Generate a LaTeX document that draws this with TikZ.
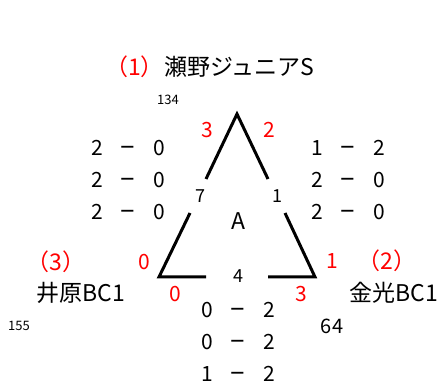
\documentclass[tikz,border=0pt]{standalone}
\usepackage{fontspec}
\setmainfont{Noto Sans CJK JP}
\begin{document}
\begin{tikzpicture}[x=1pt,y=-1pt,
  big/.style={inner sep=0pt,font=\fontsize{21}{21}\selectfont},
  redbig/.style={big,text=red},
  teamtext/.style={inner sep=0pt,font=\fontsize{23}{23}\selectfont},
  rednum/.style={teamtext,text=red},
  mid/.style={inner sep=0pt,font=\fontsize{18}{18}\selectfont},
  tiny/.style={inner sep=0pt,font=\fontsize{13}{13}\selectfont},
  edge/.style={line width=3pt,line cap=butt}]
\useasboundingbox (0,0) rectangle (442,390);
\newcommand\scorerow[2]{\makebox[31pt]{#1}\makebox[31pt]{\scalebox{1.3}[1.4]{–}}\makebox[31pt]{#2}}
% corners
\coordinate (T) at (237,114);
\coordinate (L) at (159,277);
\coordinate (R) at (315,277);
% triangle with gaps
\draw[edge,line join=miter] (206,179) -- (T) -- (268,179);
\draw[edge,line join=miter] (190,213) -- (L) -- (206,277);
\draw[edge,line join=miter] (285,213) -- (R) -- (268,277);
% title
\node[teamtext,anchor=west] (t1) at (164,67) {瀬野ジュニアS};
\node[rednum,anchor=east] (n1) at (t1.west) {（1）};
\node[tiny] (p1) at (168,100) {134};
% corner scores
\node[redbig] (s3) at (207,130) {3};
\node[redbig] (s2) at (269,130) {2};
\node[redbig] (l0a) at (144,262) {0};
\node[redbig] (l0b) at (175,294) {0};
\node[redbig] (r1) at (332,261) {1};
\node[redbig] (r3) at (301,294) {3};
% side match numbers
\node[mid] (m7) at (200,196) {7};
\node[mid] (m1) at (277,196) {1};
\node[mid] (m4) at (238,276) {4};
\node[teamtext] (A) at (238,221) {A};
% score rows
\node[big] (la) at (128,148) {\scorerow{2}{0}};
\node[big] (lb) at (128,180) {\scorerow{2}{0}};
\node[big] (lc) at (128,212) {\scorerow{2}{0}};
\node[big] (ra) at (348,148) {\scorerow{1}{2}};
\node[big] (rb) at (348,180) {\scorerow{2}{0}};
\node[big] (rc) at (348,212) {\scorerow{2}{0}};
\node[big] (ba) at (238,310) {\scorerow{0}{2}};
\node[big] (bb) at (238,342) {\scorerow{0}{2}};
\node[big] (bc) at (238,374) {\scorerow{1}{2}};
% team names
\node[rednum] (n3) at (56,262) {（3）};
\node[teamtext] (t3) at (81,293) {井原BC1};
\node[tiny] (p3) at (19,326) {155};
\node[rednum] (n2) at (387,261) {（2）};
\node[teamtext] (t2) at (394,293) {金光BC1};
\node[inner sep=0pt,font=\fontsize{20}{20}\selectfont] (p2) at (332,326) {64};
\end{tikzpicture}
\end{document}
